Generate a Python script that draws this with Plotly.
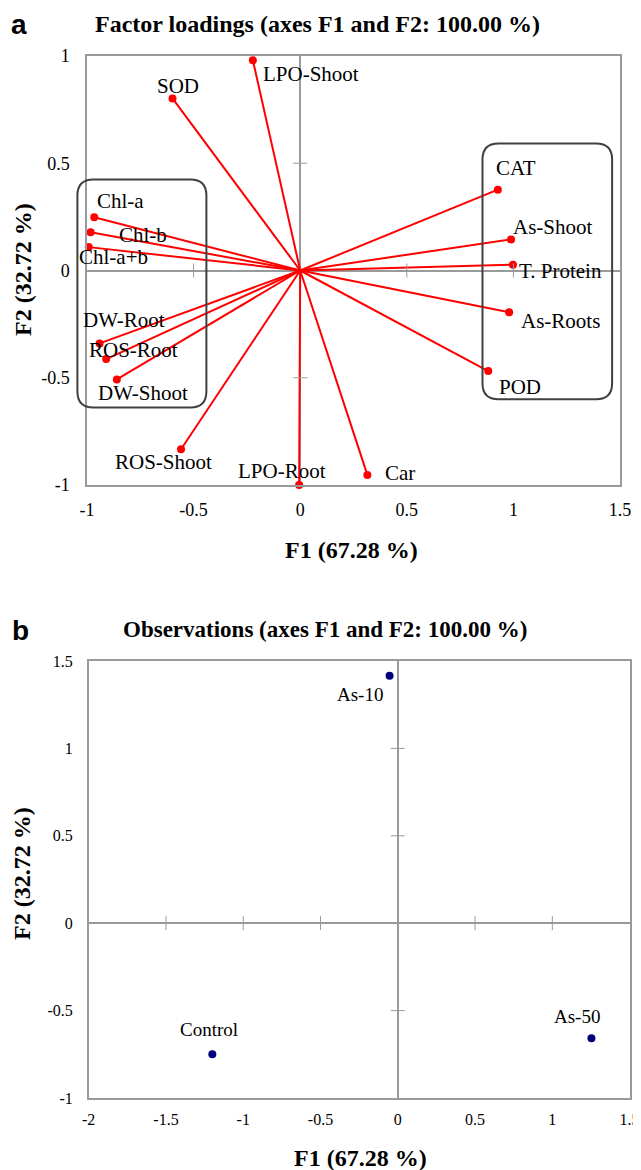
import plotly.graph_objects as go

# ---------------- data ----------------
var_names = ["LPO-Shoot", "SOD", "Chl-a", "Chl-b", "Chl-a+b", "CAT", "As-Shoot",
             "T. Protein", "As-Roots", "POD", "DW-Root", "ROS-Root", "DW-Shoot",
             "ROS-Shoot", "LPO-Root", "Car"]
f1_load = [-0.222, -0.599, -0.966, -0.983, -0.992, 0.927, 0.989, 0.998, 0.980,
           0.882, -0.941, -0.910, -0.860, -0.559, -0.005, 0.315]
f2_load = [0.980, 0.802, 0.248, 0.178, 0.109, 0.377, 0.145, 0.027, -0.195,
           -0.469, -0.340, -0.413, -0.508, -0.833, -1.000, -0.953]

obs_names = ["As-10", "Control", "As-50"]
f1_obs = [-0.053, -1.200, 1.253]
f2_obs = [1.416, -0.750, -0.658]

load_xticks = [-1, -0.5, 0, 0.5, 1, 1.5]
load_yticks = [-1, -0.5, 0, 0.5, 1]
obs_xticks = [-2, -1.5, -1, -0.5, 0, 0.5, 1, 1.5]
obs_yticks = [-1, -0.5, 0, 0.5, 1, 1.5]

# ---------------- styling / positions ----------------
# the page body keeps its default 8px margin, so the figure is laid out
# 8px smaller and every target pixel position is shifted by that offset
OFF = 8
VW, VH = 641, 1170
W, H = VW - OFF, VH - OFF
SERIF = "Liberation Serif, Times New Roman, serif"
SANS = "Liberation Sans, Arial, sans-serif"
GRAY = "#9a9a9a"

# label offsets in px (dx right, dy down) relative to each point
load_lab_off = {
    "LPO-Shoot": (58, 14), "SOD": (6, -12), "Chl-a": (26, -16), "Chl-b": (52, 3),
    "Chl-a+b": (25, 10), "CAT": (18, -22), "As-Shoot": (42, -12),
    "T. Protein": (48, 6), "As-Roots": (51, 9), "POD": (32, 16),
    "DW-Root": (24, -23), "ROS-Root": (27, -9), "DW-Shoot": (26, 14),
    "ROS-Shoot": (-18, 13), "LPO-Root": (-17, -14), "Car": (33, -2),
}
obs_lab_off = {"As-10": (-30, 19), "Control": (-3, -25), "As-50": (-14, -22)}


def px_x(px):
    return (px - OFF) / W


def px_y(py):
    return 1 - (py - OFF) / H


x1_dom = [px_x(87), px_x(620)]
y1_dom = [px_y(485), px_y(56)]
x2_dom = [px_x(88.7), px_x(629.6)]
y2_dom = [px_y(1098), px_y(661)]
x1_rng, y1_rng = [-1, 1.5], [-1, 1]
x2_rng, y2_rng = [-2, 1.5], [-1, 1.5]


def fmt(v):
    return ("%g" % v)


def to_paper(v, dom, rng):
    return dom[0] + (v - rng[0]) / (rng[1] - rng[0]) * (dom[1] - dom[0])


fig = go.Figure()

# loading vectors
vx, vy = [], []
for a, b in zip(f1_load, f2_load):
    vx += [0, a, None]
    vy += [0, b, None]
fig.add_trace(go.Scatter(x=vx, y=vy, mode="lines", line=dict(color="#ff0000", width=2),
                         xaxis="x", yaxis="y", hoverinfo="skip", cliponaxis=False))
fig.add_trace(go.Scatter(x=f1_load, y=f2_load, mode="markers",
                         marker=dict(color="#ff0000", size=8), xaxis="x", yaxis="y",
                         text=var_names, cliponaxis=False))

# cross ticks on the zero lines (top)
tx = [v for v in load_xticks if v not in (0, load_xticks[0], load_xticks[-1])]
ty = [v for v in load_yticks if v not in (0, load_yticks[0], load_yticks[-1])]
fig.add_trace(go.Scatter(x=tx, y=[0] * len(tx), mode="markers", xaxis="x", yaxis="y",
                         marker=dict(symbol="line-ns", size=10, line=dict(color=GRAY, width=1)),
                         hoverinfo="skip"))
fig.add_trace(go.Scatter(x=[0] * len(ty), y=ty, mode="markers", xaxis="x", yaxis="y",
                         marker=dict(symbol="line-ew", size=10, line=dict(color=GRAY, width=1)),
                         hoverinfo="skip"))

# observations
fig.add_trace(go.Scatter(x=f1_obs, y=f2_obs, mode="markers", xaxis="x2", yaxis="y2",
                         marker=dict(color="#00007a", size=8), text=obs_names,
                         cliponaxis=False))
tx2 = [v for v in obs_xticks if v not in (0, obs_xticks[0], obs_xticks[-1])]
ty2 = [v for v in obs_yticks if v not in (0, obs_yticks[0], obs_yticks[-1])]
fig.add_trace(go.Scatter(x=tx2, y=[0] * len(tx2), mode="markers", xaxis="x2", yaxis="y2",
                         marker=dict(symbol="line-ns", size=10, line=dict(color=GRAY, width=1)),
                         hoverinfo="skip"))
fig.add_trace(go.Scatter(x=[0] * len(ty2), y=ty2, mode="markers", xaxis="x2", yaxis="y2",
                         marker=dict(symbol="line-ew", size=10, line=dict(color=GRAY, width=1)),
                         hoverinfo="skip"))

annotations = []
for n, a, b in zip(var_names, f1_load, f2_load):
    dx, dy = load_lab_off[n]
    annotations.append(dict(x=a, y=b, xref="x", yref="y", text=n, showarrow=False,
                            xshift=dx, yshift=-dy, xanchor="center", yanchor="middle",
                            font=dict(family=SERIF, size=21, color="black")))
for n, a, b in zip(obs_names, f1_obs, f2_obs):
    dx, dy = obs_lab_off[n]
    annotations.append(dict(x=a, y=b, xref="x2", yref="y2", text=n, showarrow=False,
                            xshift=dx, yshift=-dy, xanchor="center", yanchor="middle",
                            font=dict(family=SERIF, size=19, color="black")))


def text_ann(px, py, text, size, family=SERIF, bold=True, angle=0):
    return dict(x=px_x(px), y=px_y(py), xref="paper", yref="paper",
                text=("<b>%s</b>" % text) if bold else text,
                showarrow=False, xanchor="center", yanchor="middle", textangle=angle,
                font=dict(family=family, size=size, color="black"))


annotations += [
    text_ann(18.5, 24, "a", 28, family=SANS),
    text_ann(317.5, 24, "Factor loadings (axes F1 and F2: 100.00 %)", 24),
    text_ann(351, 550, "F1 (67.28 %)", 24),
    text_ann(23, 270, "F2 (32.72 %)", 24, angle=-90),
    text_ann(20, 630, "b", 28, family=SANS),
    text_ann(325, 629, "Observations (axes F1 and F2: 100.00 %)", 23),
    text_ann(361, 1158, "F1 (67.28 %)", 24),
    text_ann(22, 874, "F2 (32.72 %)", 24, angle=-90),
]

# rounded grouping boxes (data extents)
boxes = [(-1.045, -0.44, -0.639, 0.424), (0.855, 1.463, -0.600, 0.592)]
R = 16  # corner radius in px
shapes = []
for (xa, xb, ya, yb) in boxes:
    X0, X1 = to_paper(xa, x1_dom, x1_rng), to_paper(xb, x1_dom, x1_rng)
    Y0, Y1 = to_paper(ya, y1_dom, y1_rng), to_paper(yb, y1_dom, y1_rng)
    rx, ry = R / W, R / H
    path = (f"M {X0+rx},{Y1} L {X1-rx},{Y1} Q {X1},{Y1} {X1},{Y1-ry} "
            f"L {X1},{Y0+ry} Q {X1},{Y0} {X1-rx},{Y0} L {X0+rx},{Y0} "
            f"Q {X0},{Y0} {X0},{Y0+ry} L {X0},{Y1-ry} Q {X0},{Y1} {X0+rx},{Y1} Z")
    shapes.append(dict(type="path", path=path, xref="paper", yref="paper",
                       line=dict(color="#404040", width=2), layer="above"))


def axis(dom, rng, ticks, fsize, standoff, anchor):
    return dict(domain=dom, range=rng, tickmode="array", tickvals=ticks,
                ticktext=[fmt(t) for t in ticks], showgrid=False, showline=True,
                mirror=True, linecolor=GRAY, linewidth=1.5, zeroline=True,
                zerolinecolor=GRAY, zerolinewidth=1.5, ticks="", anchor=anchor,
                automargin=False, ticklabeloverflow="allow",
                tickfont=dict(family=SERIF, size=fsize, color="black"),
                ticklabelstandoff=standoff, fixedrange=True)


fig.update_layout(
    width=W, height=H, margin=dict(l=0, r=0, t=0, b=0, pad=0, autoexpand=False),
    paper_bgcolor="white", plot_bgcolor="white", showlegend=False,
    xaxis=axis(x1_dom, x1_rng, load_xticks, 18, 8, "y"),
    yaxis=axis(y1_dom, y1_rng, load_yticks, 18, 12, "x"),
    xaxis2=axis(x2_dom, x2_rng, obs_xticks, 16, 6, "y2"),
    yaxis2=axis(y2_dom, y2_rng, obs_yticks, 16, 11, "x2"),
    annotations=annotations, shapes=shapes,
)

fig.write_html(
    "out.html",
    post_script="document.documentElement.style.overflow='hidden';"
                "document.body.style.overflow='hidden';",
)
